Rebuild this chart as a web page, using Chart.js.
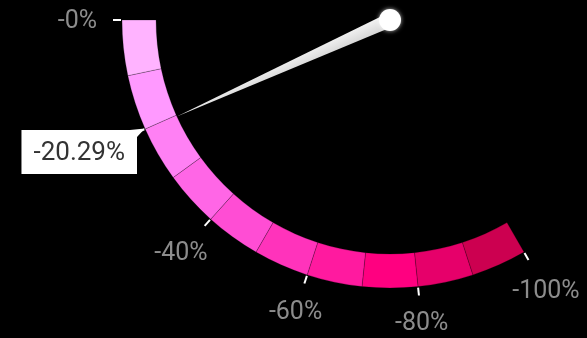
<!DOCTYPE html>
<html><head><meta charset="utf-8">
<script src="https://cdn.jsdelivr.net/npm/chart.js@4.4.0/dist/chart.umd.min.js"></script>
<style>
html,body{margin:0;padding:0;background:#000;overflow:hidden}
#wrap{position:relative;width:587px;height:338px;background:#000}
canvas{display:block}
</style></head>
<body><div id="wrap"><canvas id="c" width="587" height="338"></canvas></div>
<script>
// Gauge bands (value magnitude 0..100, shown as negative percentages)
const bandLabels = ['-0% to -10%','-10% to -20%','-20% to -30%','-30% to -40%','-40% to -50%','-50% to -60%','-60% to -70%','-70% to -80%','-80% to -90%','-90% to -100%'];
const bandStarts = [0,10,20,30,40,50,60,70,80,90];
const bandEnds   = [10,20,30,40,50,60,70,80,90,100];
const bandColors = ['#ffb3ff','#ff99ff','#ff80f4','#ff66e6','#ff4dd4','#ff33bb','#ff1a9f','#ff0080','#e6006a','#cc0050'];
const tickValues = [0,20,40,60,80,100];
const tickLabels = ['-0%','-20%','-40%','-60%','-80%','-100%'];
const gaugeValue = 20.29;
const valueLabel = '-20.29%';
const scaleMin = 0, scaleMax = 100;

const gaugePlugin = {
  id: 'gauge',
  afterDatasetsDraw(chart) {
    const ctx = chart.ctx;
    const arcs = chart.getDatasetMeta(0).data;
    const cx = arcs[0].x, cy = arcs[0].y;
    const outerR = arcs[0].outerRadius, innerR = arcs[0].innerRadius;
    const aStart = arcs[arcs.length - 1].endAngle; // value = scaleMin
    const aEnd = arcs[0].startAngle;               // value = scaleMax
    const ang = v => aStart + (aEnd - aStart) * (v - scaleMin) / (scaleMax - scaleMin);
    const pt = (a, r) => [cx + r * Math.cos(a), cy + r * Math.sin(a)];

    ctx.save();
    // ticks
    ctx.strokeStyle = '#ffffff';
    ctx.lineWidth = 2;
    tickValues.forEach(v => {
      const a = ang(v);
      const p1 = pt(a, outerR + 1), p2 = pt(a, outerR + 9);
      ctx.beginPath(); ctx.moveTo(p1[0], p1[1]); ctx.lineTo(p2[0], p2[1]); ctx.stroke();
    });
    // tick labels
    ctx.font = '25px Roboto';
    ctx.fillStyle = '#8c8c8c';
    ctx.textAlign = 'center';
    ctx.textBaseline = 'middle';
    tickValues.forEach((v, i) => {
      const a = ang(v);
      const w = ctx.measureText(tickLabels[i]).width, h = 20;
      const dx = Math.cos(a), dy = Math.sin(a);
      const ext = Math.sqrt(Math.pow(dx * w / 2, 2) + Math.pow(dy * h / 2, 2));
      const p = pt(a, outerR + 25 + ext);
      ctx.fillText(tickLabels[i], p[0], p[1] + 2);
    });
    // needle
    const av = ang(gaugeValue);
    const tip = pt(av, innerR);
    const px = -Math.sin(av), py = Math.cos(av);
    const grad = ctx.createLinearGradient(cx + px * 7, cy + py * 7, cx - px * 7, cy - py * 7);
    grad.addColorStop(0, '#f2f2f2');
    grad.addColorStop(1, '#d6d6d6');
    ctx.fillStyle = grad;
    ctx.beginPath();
    ctx.moveTo(cx + px * 7, cy + py * 7);
    ctx.lineTo(tip[0], tip[1]);
    ctx.lineTo(cx - px * 7, cy - py * 7);
    ctx.closePath();
    ctx.fill();
    ctx.shadowColor = 'rgba(255,255,255,0.7)';
    ctx.shadowBlur = 4;
    ctx.fillStyle = '#ffffff';
    ctx.beginPath(); ctx.arc(cx, cy, 11, 0, Math.PI * 2); ctx.fill();
    ctx.shadowBlur = 0;
    // value box
    const vp = pt(av, outerR);
    ctx.font = '26px Roboto';
    const tw = ctx.measureText(valueLabel).width;
    const bw = tw + 24, bh = 44;
    const right = Math.round(vp[0] - 9), top = Math.round(vp[1]);
    const left = right - bw;
    ctx.fillStyle = '#ffffff';
    ctx.fillRect(left, top, bw, bh);
    ctx.beginPath();
    ctx.moveTo(right - 7, top);
    ctx.lineTo(vp[0] - 1, vp[1] - 2);
    ctx.lineTo(right, top + 7);
    ctx.closePath();
    ctx.fill();
    ctx.fillStyle = '#333333';
    ctx.textAlign = 'center';
    ctx.textBaseline = 'middle';
    ctx.fillText(valueLabel, left + bw / 2, top + bh / 2 + 1);
    ctx.restore();
  }
};

const ctx = document.getElementById('c').getContext('2d');
new Chart(ctx, {
  type: 'doughnut',
  data: {
    labels: bandLabels.slice().reverse(),
    datasets: [{
      data: bandStarts.map((s, i) => bandEnds[i] - s).reverse(),
      backgroundColor: bandColors.slice().reverse(),
      borderColor: 'rgba(0,0,0,0.22)',
      borderWidth: 1
    }]
  },
  options: {
    responsive: false,
    animation: false,
    rotation: 150,
    circumference: 120,
    cutout: '87.3%',
    radius: 268,
    layout: { padding: { left: 59, right: 0, top: 0, bottom: 30 } },
    events: [],
    plugins: { legend: { display: false }, tooltip: { enabled: false } }
  },
  plugins: [gaugePlugin]
});
</script>
</body></html>
